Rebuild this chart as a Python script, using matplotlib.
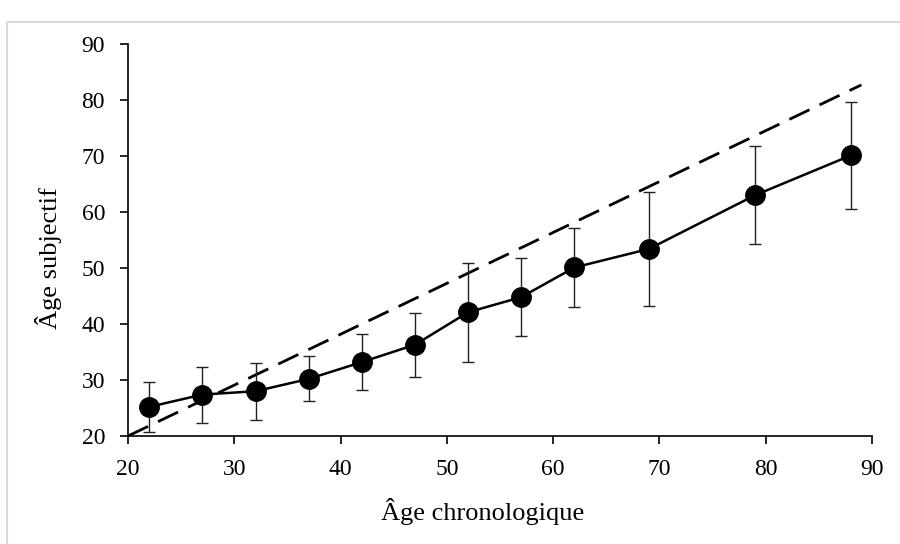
import numpy as np
import matplotlib.pyplot as plt
from matplotlib.patches import Rectangle

# Donnees
age_chrono = [22, 27, 32, 37, 42, 47, 52, 57, 62, 69, 79, 88]
age_subjectif = [25.2, 27.4, 28.0, 30.2, 33.2, 36.3, 42.1, 44.8, 50.1, 53.4, 63.0, 70.1]
erreur = [4.5, 5.0, 5.1, 4.0, 5.0, 5.7, 8.8, 7.0, 7.0, 10.1, 8.7, 9.5]

# droite de reference (tirets)
ref_x = [20, 89]
ref_y = [20, 82.7]

plt.rcParams['font.family'] = ['Liberation Serif', 'DejaVu Serif']

fig = plt.figure(figsize=(9, 5.44), dpi=100)
ax = fig.add_axes([0.1422, 0.1985, 0.8267, 0.7206])

# cadre gris autour du graphique
fig.patches.append(Rectangle((7 / 900, -0.05), 1.2, 1 - 22 / 544 + 0.05,
                             transform=fig.transFigure, fill=False,
                             edgecolor='#d9d9d9', lw=1.5))

ax.plot(ref_x, ref_y, color='black', lw=2, dashes=(8, 4), zorder=2)
ax.errorbar(age_chrono, age_subjectif, yerr=erreur, color='black', lw=1.8,
            marker='o', markersize=14, elinewidth=1.0, capsize=4.5,
            capthick=1.0, ecolor='#222222', zorder=3)

ax.set_xlim(20, 90)
ax.set_ylim(20, 90)
ax.set_xticks(np.arange(20, 91, 10))
ax.set_yticks(np.arange(20, 91, 10))
ax.spines['top'].set_visible(False)
ax.spines['right'].set_visible(False)
ax.spines['left'].set_linewidth(1.2)
ax.spines['bottom'].set_linewidth(1.2)
ax.tick_params(axis='both', direction='out', length=5.5, width=1.2, labelsize=17, pad=11)
ax.set_xlabel('Âge chronologique', fontsize=19, labelpad=13)
ax.set_ylabel('Âge subjectif', fontsize=19, labelpad=14)
ax.xaxis.label.set_x(0.476)
ax.yaxis.label.set_y(0.455)

fig.savefig('out.png', dpi=100)
